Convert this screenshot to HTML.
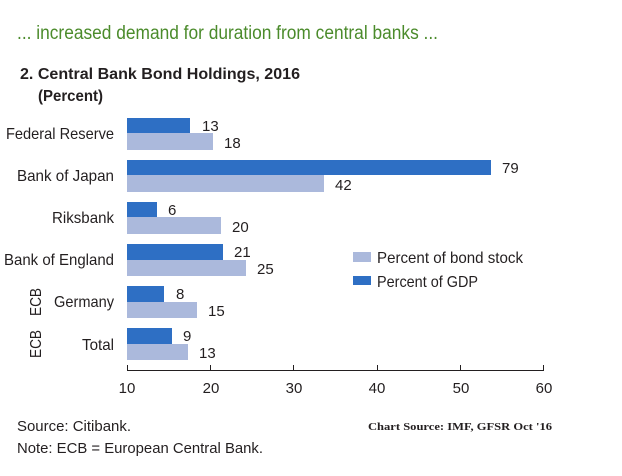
<!DOCTYPE html>
<html><head><meta charset="utf-8"><style>
html,body{margin:0;padding:0;background:#fff}
svg{display:block}
text{font-family:"Liberation Sans Narrow","Liberation Sans",sans-serif;fill:#231f20}
</style></head><body>
<svg width="622" height="476" viewBox="0 0 622 476" xmlns="http://www.w3.org/2000/svg">
<text x="17" y="39" font-size="19" textLength="421" lengthAdjust="spacingAndGlyphs" style="fill:#4b8b2b">... increased demand for duration from central banks ...</text>
<text x="20" y="79" font-size="16" font-weight="bold" textLength="280" lengthAdjust="spacingAndGlyphs">2. Central Bank Bond Holdings, 2016</text>
<text x="38" y="101" font-size="16" font-weight="bold" textLength="65" lengthAdjust="spacingAndGlyphs">(Percent)</text>

<g font-size="16" text-anchor="end">
<text x="114" y="139" textLength="108" lengthAdjust="spacingAndGlyphs">Federal Reserve</text>
<text x="114" y="181" textLength="97" lengthAdjust="spacingAndGlyphs">Bank of Japan</text>
<text x="114" y="223" textLength="62" lengthAdjust="spacingAndGlyphs">Riksbank</text>
<text x="114" y="265" textLength="110" lengthAdjust="spacingAndGlyphs">Bank of England</text>
<text x="114" y="307" textLength="60" lengthAdjust="spacingAndGlyphs">Germany</text>
<text x="114" y="350" textLength="32" lengthAdjust="spacingAndGlyphs">Total</text>
</g>
<text transform="translate(41,302) rotate(-90)" font-size="16" text-anchor="middle" textLength="28" lengthAdjust="spacingAndGlyphs">ECB</text>
<text transform="translate(41,344) rotate(-90)" font-size="16" text-anchor="middle" textLength="28" lengthAdjust="spacingAndGlyphs">ECB</text>

<g fill="#2e6fc4">
<rect x="127" y="118" width="63" height="15"/>
<rect x="127" y="160" width="364" height="15"/>
<rect x="127" y="202" width="30" height="15"/>
<rect x="127" y="244" width="96" height="16"/>
<rect x="127" y="286" width="37" height="16"/>
<rect x="127" y="328" width="45" height="16"/>
</g>
<g fill="#abb9dc">
<rect x="127" y="133" width="86" height="17"/>
<rect x="127" y="175" width="197" height="17"/>
<rect x="127" y="217" width="94" height="17"/>
<rect x="127" y="260" width="119" height="16"/>
<rect x="127" y="302" width="70" height="16"/>
<rect x="127" y="344" width="61" height="16"/>
</g>
<g font-size="15">
<text x="202" y="131">13</text><text x="224" y="148">18</text>
<text x="502" y="173">79</text><text x="335" y="190">42</text>
<text x="168" y="215">6</text><text x="232" y="232">20</text>
<text x="234" y="257">21</text><text x="257" y="274">25</text>
<text x="176" y="299">8</text><text x="208" y="316">15</text>
<text x="183" y="341">9</text><text x="199" y="358">13</text>
</g>

<g stroke="#231f20" stroke-width="1">
<line x1="127" y1="370.5" x2="543" y2="370.5"/>
<line x1="127.5" y1="365" x2="127.5" y2="371"/>
<line x1="210.5" y1="365" x2="210.5" y2="371"/>
<line x1="293.5" y1="365" x2="293.5" y2="371"/>
<line x1="377.5" y1="365" x2="377.5" y2="371"/>
<line x1="460.5" y1="365" x2="460.5" y2="371"/>
<line x1="543.5" y1="365" x2="543.5" y2="371"/>
</g>
<g font-size="15" text-anchor="middle">
<text x="127" y="393">10</text><text x="211" y="393">20</text><text x="294" y="393">30</text>
<text x="377" y="393">40</text><text x="461" y="393">50</text><text x="544" y="393">60</text>
</g>

<rect x="353" y="252" width="18" height="10" fill="#abb9dc"/>
<text x="377" y="263" font-size="16" textLength="146" lengthAdjust="spacingAndGlyphs">Percent of bond stock</text>
<rect x="353" y="276" width="18" height="9" fill="#2e6fc4"/>
<text x="377" y="287" font-size="16" textLength="101" lengthAdjust="spacingAndGlyphs">Percent of GDP</text>

<text x="17" y="431" font-size="15" textLength="114" lengthAdjust="spacingAndGlyphs">Source: Citibank.</text>
<text x="17" y="453" font-size="15" textLength="246" lengthAdjust="spacingAndGlyphs">Note: ECB = European Central Bank.</text>
<text x="368" y="430" font-size="11" font-weight="bold" style="font-family:'Liberation Serif',serif" textLength="184" lengthAdjust="spacingAndGlyphs">Chart Source:  IMF,  GFSR Oct '16</text>
</svg>
</body></html>
